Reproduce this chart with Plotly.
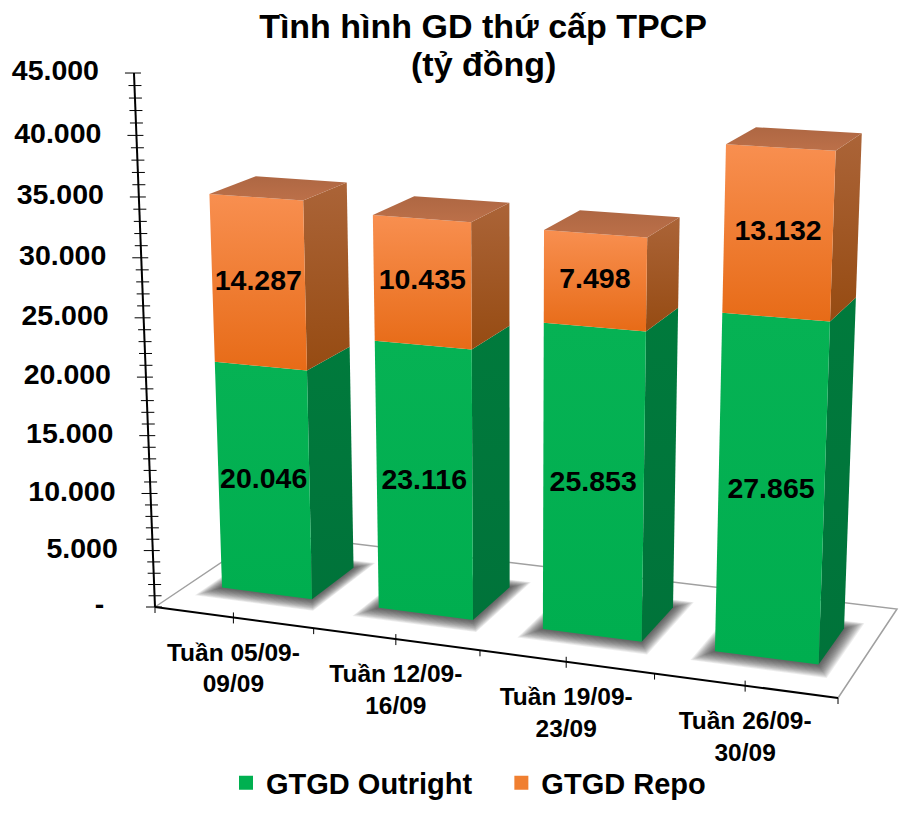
import plotly.graph_objects as go

categories = ["Tuần 05/09-<br>09/09", "Tuần 12/09-<br>16/09", "Tuần 19/09-<br>23/09", "Tuần 26/09-<br>30/09"]
outright = [20046, 23116, 25853, 27865]
repo = [14287, 10435, 7498, 13132]
value_ticks = [0, 5000, 10000, 15000, 20000, 25000, 30000, 35000, 40000, 45000]
value_tick_labels = ["-\u00a0\u00a0", "5.000", "10.000", "15.000", "20.000", "25.000", "30.000", "35.000", "40.000", "45.000"]
value_max = 45000

FONT = "Liberation Sans"
# the page keeps its 8px body margin, so the plot is 16px smaller than the window
PAD = 8
W, H = 913 - 2 * PAD, 821 - 2 * PAD


def paper_x(px):
    return (px - PAD) / W


def paper_y(py):
    return 1 - (py - PAD) / H


# the chart is a 3d column chart, so everything goes through one perspective view
def project(c, value, d):
    '''c = category position (0-4), d = depth on the floor (0-1)'''
    u = c / 4
    h = value / value_max
    w = 1 - 0.09227 * u + 0.08931 * d - 0.055 * h
    x = (605.68 * u + 133.67 * d - 28.4 * h + 155) / w
    y = (26.6 * u - 26.4 * d - 538 * h + 607) / w
    return x, y


def poly(points, color=None, gradient=None):
    xs, ys = zip(*[project(*p) for p in points])
    trace = dict(x=list(xs) + [xs[0]], y=list(ys) + [ys[0]], mode="lines", fill="toself",
                 line=dict(width=0), hoverinfo="skip", showlegend=False)
    if gradient:
        trace["fillgradient"] = dict(type="vertical", colorscale=[[0, gradient[0]], [1, gradient[1]]],
                                     start=min(ys), stop=max(ys))
    else:
        trace["fillcolor"] = color
    return go.Scatter(**trace)


def line(points, color, width):
    xs, ys = zip(*[project(*p) for p in points])
    return go.Scatter(x=xs, y=ys, mode="lines", line=dict(color=color, width=width),
                      hoverinfo="skip", showlegend=False)


def block(c0, c1, d0, d1, low, high, front, side, top=None):
    out = [poly([(c1, low, d0), (c1, low, d1), (c1, high, d1), (c1, high, d0)], gradient=side),
           poly([(c0, low, d0), (c1, low, d0), (c1, high, d0), (c0, high, d0)], gradient=front)]
    if top:
        out.append(poly([(c0, high, d0), (c1, high, d0), (c1, high, d1), (c0, high, d1)], gradient=top))
    return out


fig = go.Figure()

# floor
fig.add_trace(line([(0, 0, 0), (0, 0, 1), (4, 0, 1), (4, 0, 0)], "#a0a0a0", 1.5))

BAR_LEFT, BAR_RIGHT = 0.21, 0.79
BAR_FRONT, BAR_BACK = 0.30, 0.71

# soft shadows under the columns
for i in range(len(categories)):
    c0, c1 = i + BAR_LEFT, i + BAR_RIGHT
    for k in range(1, 15):
        m = k * 0.0062
        fig.add_trace(poly([(c0 - m, 0, BAR_FRONT - m * 1.4), (c1 + m, 0, BAR_FRONT - m * 1.4),
                            (c1 + m, 0, BAR_BACK + m), (c0 - m, 0, BAR_BACK + m)],
                           color="rgba(50,50,50,0.085)"))

# columns
for i in range(len(categories)):
    c0, c1 = i + BAR_LEFT, i + BAR_RIGHT
    stack = outright[i] + repo[i]
    for t in block(c0, c1, BAR_FRONT, BAR_BACK, 0, outright[i],
                   ("#06B254", "#00AE4F"), ("#007A3C", "#00733A")):
        fig.add_trace(t)
    for t in block(c0, c1, BAR_FRONT, BAR_BACK, outright[i], stack,
                   ("#F88F50", "#E76B17"), ("#AB6438", "#964B12"), ("#AE6743", "#BC7049")):
        fig.add_trace(t)

# value axis
fig.add_trace(line([(0, 0, 0), (0, value_max, 0)], "black", 2))
tx, ty = [], []
for v in range(0, value_max + 1, 1000):
    x, y = project(0, v, 0)
    left = 9 if v % 5000 == 0 else 6
    tx += [x - left, x + 7, None]
    ty += [y, y, None]
fig.add_trace(go.Scatter(x=tx, y=ty, mode="lines", line=dict(color="black", width=1),
                         hoverinfo="skip", showlegend=False))
lx, ly = [], []
for v in value_ticks:
    x, y = project(0, v, 0)
    lx.append(x - 35)
    ly.append(y)
fig.add_trace(go.Scatter(x=lx, y=ly, mode="text", text=value_tick_labels, textposition="middle left",
                         textfont=dict(family=FONT, size=28.5, color="black", weight=700),
                         hoverinfo="skip", showlegend=False))

# category axis
fig.add_trace(line([(0, 0, 0), (4, 0, 0)], "black", 2))
tx, ty = [], []
for k in range(9):
    x, y = project(k / 2, 0, 0)
    tx += [x, x, None]
    ty += [y - 5 if k % 2 else y, y + 6, None]
fig.add_trace(go.Scatter(x=tx, y=ty, mode="lines", line=dict(color="black", width=1),
                         hoverinfo="skip", showlegend=False))
lx, ly = zip(*[project(i + 0.5, 0, 0) for i in range(len(categories))])
fig.add_trace(go.Scatter(x=lx, y=[y + 53 for y in ly], mode="text", text=categories,
                         textposition="middle center",
                         textfont=dict(family=FONT, size=24.5, color="black", weight=700),
                         hoverinfo="skip", showlegend=False))

# data labels in the middle of each front face
for low, vals in ((None, outright), (outright, repo)):
    lx, ly, txt = [], [], []
    for i, v in enumerate(vals):
        base = low[i] if low else 0
        x, y = project(i + 0.5, base + v / 2, BAR_FRONT)
        lx.append(x)
        ly.append(y)
        txt.append(f"{v:,}".replace(",", "."))
    fig.add_trace(go.Scatter(x=lx, y=ly, mode="text", text=txt, textposition="middle center",
                             textfont=dict(family=FONT, size=28.5, color="black", weight=700),
                             hoverinfo="skip", showlegend=False))

# legend only
for name, color in (("GTGD Outright\u00a0\u00a0\u00a0", "#00B050"), ("GTGD Repo", "#F07F30")):
    fig.add_trace(go.Scatter(x=[None], y=[None], mode="markers", name=name,
                             marker=dict(symbol="square", size=14, color=color)))

fig.update_layout(
    width=W, height=H, margin=dict(l=0, r=0, t=0, b=0),
    paper_bgcolor="white", plot_bgcolor="white",
    title=dict(text="Tình hình GD thứ cấp TPCP", x=paper_x(483), xanchor="center", y=paper_y(26), yanchor="middle",
               font=dict(family=FONT, size=34, color="black", weight=700)),
    annotations=[dict(text="(tỷ đồng)", x=483, y=64, xref="x", yref="y", showarrow=False,
                      font=dict(family=FONT, size=34, color="black", weight=700))],
    legend=dict(orientation="h", x=paper_x(226), xanchor="left", y=paper_y(783), yanchor="middle",
                font=dict(family=FONT, size=29, color="black", weight=700), itemwidth=30),
    xaxis=dict(range=[PAD, PAD + W], visible=False, fixedrange=True),
    yaxis=dict(range=[PAD + H, PAD], visible=False, fixedrange=True),
)

fig.write_html("out.html")
